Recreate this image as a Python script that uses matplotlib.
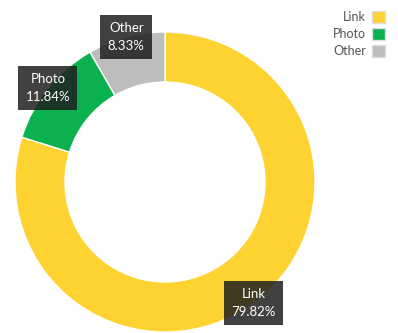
import matplotlib.pyplot as plt
from matplotlib.patches import Patch
import numpy as np

labels = ["Link", "Photo", "Other"]
shares = [79.82, 11.84, 8.33]
colors = ["#FDD231", "#0BB14F", "#BDBDBD"]

W, H = 398, 333
fig = plt.figure(figsize=(W / 100, H / 100), dpi=100)
ax = fig.add_axes([0, 0, 1, 1])

cx, cy, r = 165, H - 182, 150
wedges, _ = ax.pie(shares, colors=colors, startangle=90, counterclock=False,
                   center=(cx, cy), radius=r,
                   wedgeprops=dict(width=50, edgecolor="white", linewidth=1))
ax.set_xlim(0, W)
ax.set_ylim(0, H)
ax.set_aspect("equal")
ax.axis("off")

# labels sit on the outer edge at each slice's mid angle
for w, lab, val in zip(wedges, labels, shares):
    ang = np.deg2rad((w.theta1 + w.theta2) / 2)
    x = cx + r * np.cos(ang)
    y = cy + r * np.sin(ang)
    ax.text(x, y, f"{lab}\n{val:.2f}%", ha="center", va="center",
            fontsize=9.5, color="white", family="Lato", linespacing=1.55,
            bbox=dict(boxstyle="square,pad=0.55", fc="#1f1f1f", ec="none", alpha=0.85))

handles = [Patch(facecolor=c, edgecolor="#dddddd") for c in colors]
leg = fig.legend(handles, labels, loc="upper right", bbox_to_anchor=(0.995, 1.0),
                 frameon=False, markerfirst=False,
                 handlelength=1.0, handleheight=1.0, handletextpad=0.5,
                 labelspacing=0.4, prop={"family": "Lato", "size": 9})
for t in leg.get_texts():
    t.set_color("#555555")

fig.savefig("out.png", dpi=100)
